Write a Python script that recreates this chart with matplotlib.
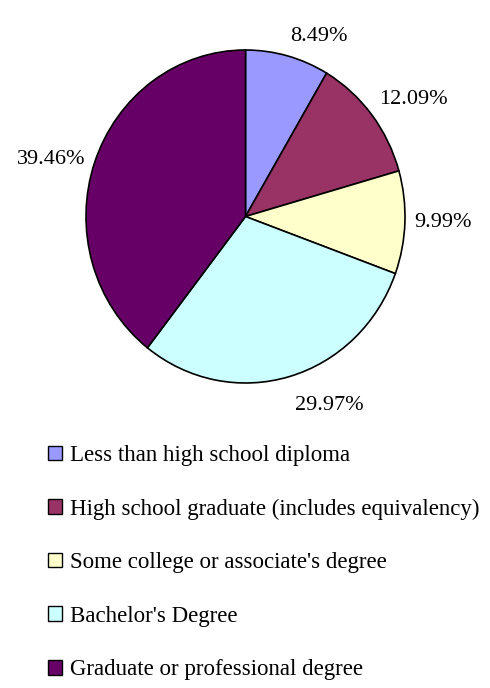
import numpy as np
import matplotlib.pyplot as plt
from matplotlib.patches import Patch

categorias = ['Less than high school diploma',
              'High school graduate (includes equivalency)',
              "Some college or associate's degree",
              "Bachelor's Degree",
              'Graduate or professional degree']
percentuais = [8.49, 12.09, 9.99, 29.97, 39.46]
cores = ['#9999FF', '#993366', '#FFFFCC', '#CCFFFF', '#660066']

plt.rcParams['font.family'] = ['Liberation Serif', 'DejaVu Serif']

fig = plt.figure(figsize=(4.9, 6.88), dpi=100)
ax = fig.add_axes([86 / 490, 1 - 383 / 688, 319 / 490, 333 / 688])

fatias, textos, autotextos = ax.pie(
    percentuais, colors=cores, startangle=90, counterclock=False,
    autopct='%.2f%%', pctdistance=1.2,
    wedgeprops={'edgecolor': 'black', 'linewidth': 1.2})

# rotulos estilo Excel: caixa do texto encostada fora da pizza
for fatia, t in zip(fatias, autotextos):
    ang = np.deg2rad((fatia.theta1 + fatia.theta2) / 2)
    c, s = np.cos(ang), np.sin(ang)
    r = 1.06 if s > -0.5 else 1.12
    t.set_position((r * c, r * s))
    t.set_ha('left' if c > 0.25 else 'right' if c < -0.25 else 'center')
    t.set_va('bottom' if s > 0.5 else 'top' if s < -0.5 else 'center')
    t.set_fontsize(16)

ax.set_xlim(-1, 1)
ax.set_ylim(-1, 1)
ax.set_aspect('auto')
ax.axis('off')

handles = [Patch(facecolor=c, edgecolor='black', linewidth=1.0) for c in cores]
fig.legend(handles, categorias, loc='upper left', bbox_to_anchor=(48 / 490, 1 - 445 / 688),
           frameon=False, fontsize=16.5, handlelength=0.6, handleheight=0.6,
           handletextpad=0.35, labelspacing=1.42, borderpad=0, borderaxespad=0)

fig.savefig('out.png', dpi=100)
plt.close()
